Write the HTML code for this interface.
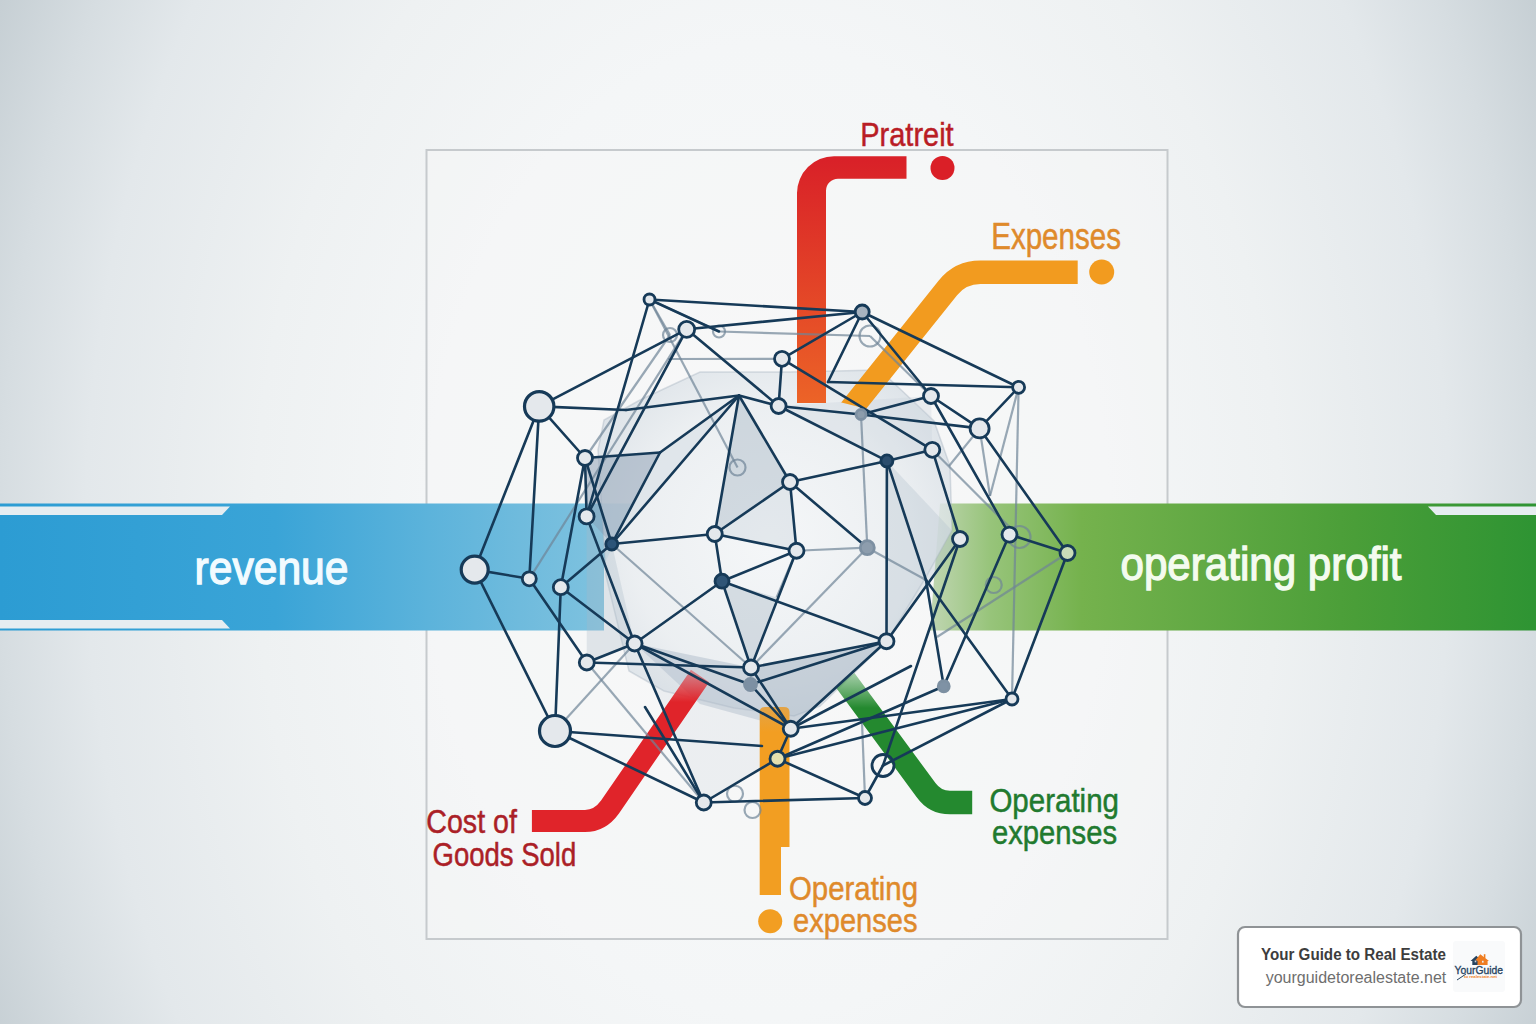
<!DOCTYPE html>
<html><head><meta charset="utf-8">
<style>
html,body{margin:0;padding:0;width:1536px;height:1024px;overflow:hidden;background:#eef0f2;}
svg{display:block;position:absolute;left:0;top:0;}
text{font-family:"Liberation Sans",sans-serif;}
</style></head><body>
<svg width="1536" height="1024" viewBox="0 0 1536 1024">
<defs>
 <radialGradient id="bg" cx="768" cy="530" r="853" gradientUnits="userSpaceOnUse" gradientTransform="translate(768 530) scale(1 1.425) translate(-768 -530)">
  <stop offset="0" stop-color="#f9fafa"/>
  <stop offset="0.4" stop-color="#f4f6f7"/>
  <stop offset="0.6" stop-color="#eef1f2"/>
  <stop offset="0.8" stop-color="#e3e8eb"/>
  <stop offset="0.9" stop-color="#d6dde1"/>
  <stop offset="1" stop-color="#c6cfd4"/>
 </radialGradient>
 <linearGradient id="blue" x1="0" y1="0" x2="612" y2="0" gradientUnits="userSpaceOnUse">
  <stop offset="0" stop-color="#2c9cd3"/>
  <stop offset="0.45" stop-color="#3aa4d7"/>
  <stop offset="0.7" stop-color="#5cb3db"/>
  <stop offset="0.85" stop-color="#6fbbdd"/>
  <stop offset="1" stop-color="#80c3df"/>
 </linearGradient>
 <linearGradient id="green" x1="930" y1="0" x2="1536" y2="0" gradientUnits="userSpaceOnUse">
  <stop offset="0" stop-color="#c0d6b2"/>
  <stop offset="0.1" stop-color="#97c47a"/>
  <stop offset="0.25" stop-color="#75b24d"/>
  <stop offset="0.7" stop-color="#4a9e38"/>
  <stop offset="1" stop-color="#2e9433"/>
 </linearGradient>
 <linearGradient id="redv" x1="0" y1="160" x2="0" y2="405" gradientUnits="userSpaceOnUse">
  <stop offset="0" stop-color="#d92128"/>
  <stop offset="1" stop-color="#ec6427"/>
 </linearGradient>
 <radialGradient id="sph" cx="770" cy="540" r="200" gradientUnits="userSpaceOnUse">
  <stop offset="0" stop-color="#f4f6f8"/>
  <stop offset="0.7" stop-color="#e9edf0"/>
  <stop offset="1" stop-color="#d9e0e6"/>
 </radialGradient>
 <filter id="soft" x="-10%" y="-10%" width="120%" height="120%"><feGaussianBlur stdDeviation="2.5"/></filter>
 <clipPath id="oclip"><polygon points="780,150 1200,150 1200,493 780,387"/></clipPath>
 <linearGradient id="redfade" x1="0" y1="672" x2="0" y2="702" gradientUnits="userSpaceOnUse"><stop offset="0" stop-color="#e0242a" stop-opacity="0.45"/><stop offset="1" stop-color="#e0242a"/></linearGradient>
 <linearGradient id="grnfade" x1="0" y1="668" x2="0" y2="708" gradientUnits="userSpaceOnUse"><stop offset="0" stop-color="#3d9a45" stop-opacity="0.35"/><stop offset="1" stop-color="#24892f"/></linearGradient>
 <linearGradient id="orgfade" x1="0" y1="707" x2="0" y2="732" gradientUnits="userSpaceOnUse"><stop offset="0" stop-color="#e3a448"/><stop offset="1" stop-color="#f29e22"/></linearGradient>
</defs>
<rect width="1536" height="1024" fill="url(#bg)"/>
<rect x="426.5" y="150" width="741" height="789" fill="#f5f6f7" fill-opacity="0.35" stroke="#c6cacd" stroke-width="2"/>
<polygon points="0,503.5 632,503.5 612,548 604,565 604,630.5 0,630.5" fill="url(#blue)"/>
<polygon points="0,506.5 230,506.5 222,515 0,515" fill="#e6edf1"/>
<polygon points="0,620 222,620 230,628.5 0,628.5" fill="#e6edf1"/>
<polygon points="940,503.5 1536,503.5 1536,630.5 930,630.5" fill="url(#green)"/>
<polygon points="1428,506.5 1536,506.5 1536,515 1436,515" fill="#e6edf1"/>
<text x="194.5" y="583.5" font-size="46.5" fill="#f2fbff" stroke="#f2fbff" stroke-width="1.3" textLength="154" lengthAdjust="spacingAndGlyphs">revenue</text>
<text x="1120.5" y="580.3" font-size="46.5" fill="#f4fbef" stroke="#f4fbef" stroke-width="1.3" textLength="281" lengthAdjust="spacingAndGlyphs">operating profit</text>
<polygon points="598,450 606,576 629,671 664,691 734,708 794,716 820,706 887,641 926,577 952,530 950,466 934,421 880,370 790,372 700,372 640,400 604,420" fill="url(#sph)" fill-opacity="0.82" stroke="#9aa9b7" stroke-opacity="0.35" stroke-width="1.5"/>
<polygon points="585,458 660,452.5 611.8,544 586.6,516.4" fill="#8fa3b6" fill-opacity="0.55"/>
<polygon points="739,395.5 714.75,534 790,482" fill="#a9b8c6" fill-opacity="0.45"/>
<polygon points="790,482 796.5,550.75 714.75,534" fill="#c3ced8" fill-opacity="0.35"/>
<polygon points="722,581.2 776.6,597.5 751,667.5" fill="#a9b8c6" fill-opacity="0.4"/>
<polygon points="751,667.5 886.5,641.25 790.75,728.75" fill="#9fb0c0" fill-opacity="0.5"/>
<polygon points="886.9,460.9 886.5,641.25 960,539" fill="#b5c2ce" fill-opacity="0.35"/>
<polygon points="778.6,406 886.9,460.9 932.3,449.8 931,396" fill="#c8d2db" fill-opacity="0.3"/>
<polygon points="739,395.5 660,452.5 611.8,544" fill="#c5cfd9" fill-opacity="0.3"/>
<polygon points="611.8,544 634.6,643.5 586.8,662.5 586.6,516.4" fill="#a8b9c8" fill-opacity="0.3"/>
<polygon points="634.6,643.5 751,667.5 790.75,728.75 700,704" fill="#9fb0c0" fill-opacity="0.4"/>
<polygon points="634.6,643.5 790.75,728.75 777.5,758.75 703.75,802.5" fill="#c5cfd8" fill-opacity="0.2"/>
<path d="M531.9,821 H585 Q600,821 610,807 L700,676" fill="none" stroke="url(#redfade)" stroke-width="22"/>
<path d="M759.7,712 Q759.7,707 765,707 H784 Q789.5,707 789.5,712 V847 H781 V895 H759.7 Z" fill="url(#orgfade)"/>
<circle cx="770.2" cy="921.2" r="12" fill="#f29e22"/>
<path d="M845,680 L926,790 Q935,802.6 950,802.6 H972.2" fill="none" stroke="url(#grnfade)" stroke-width="23.5"/>
<path d="M797,403 V193 A37,37 0 0 1 834,156.3 H906.5 V178.8 H838 A12,12 0 0 0 826,190.8 V403 Z" fill="url(#redv)"/>
<circle cx="942.5" cy="168" r="12" fill="#da1f27"/>
<path d="M840.6,422 L947.9,287.9 Q960.4,272.3 980.4,272.3 H1077.7" fill="none" stroke="#f29b1f" stroke-width="23.5" clip-path="url(#oclip)"/>
<circle cx="1101.7" cy="272" r="12.5" fill="#f29b1f"/>
<g stroke="#6f8497" stroke-width="2.2" stroke-opacity="0.7" fill="none">
<line x1="865" y1="798" x2="862" y2="722"/>
<line x1="796.5" y1="550.75" x2="867.3" y2="547.7"/>
<line x1="1018.6" y1="387.3" x2="990" y2="496"/>
<line x1="979.6" y1="428.4" x2="990" y2="496"/>
<line x1="979.6" y1="428.4" x2="949" y2="466"/>
<line x1="668" y1="359" x2="782" y2="358.8"/>
<line x1="586.8" y1="662.5" x2="703.75" y2="802.5"/>
<line x1="1067.5" y1="553" x2="937" y2="637"/>
<line x1="861" y1="414.5" x2="867.3" y2="547.7"/>
<line x1="649.5" y1="299.5" x2="719" y2="331.5"/>
<line x1="719" y1="331.5" x2="870" y2="336"/>
<line x1="529.3" y1="578.8" x2="686.7" y2="329.3"/>
<line x1="1018.6" y1="387.3" x2="1012" y2="699"/>
<line x1="611.8" y1="544" x2="751" y2="667.5"/>
<line x1="867.3" y1="547.7" x2="751" y2="667.5"/>
<line x1="867.3" y1="547.7" x2="926" y2="580"/>
<line x1="932.3" y1="449.8" x2="1019.5" y2="537"/>
<line x1="796.5" y1="550.75" x2="776.6" y2="597.5"/>
<line x1="555" y1="731" x2="634.6" y2="643.5"/>
<line x1="649.5" y1="299.5" x2="737.5" y2="467.5"/>
<line x1="870" y1="336" x2="931" y2="396"/>
<line x1="649.5" y1="299.5" x2="670" y2="335"/>
<line x1="670" y1="335" x2="585" y2="458"/>
<circle cx="670" cy="335" r="7"/>
<circle cx="719" cy="331.5" r="6"/>
<circle cx="870" cy="336" r="10.5"/>
<circle cx="737.5" cy="467.5" r="8"/>
<circle cx="1019.5" cy="537" r="11"/>
<circle cx="993.75" cy="585" r="8"/>
<circle cx="735" cy="793.75" r="8"/>
<circle cx="752.5" cy="810" r="8"/>
</g>
<g stroke="#163a58" stroke-width="2.6" stroke-linecap="round">
<line x1="649.5" y1="299.5" x2="862.2" y2="312"/>
<line x1="649.5" y1="299.5" x2="719" y2="331.5"/>
<line x1="649.5" y1="299.5" x2="586.6" y2="516.4"/>
<line x1="686.7" y1="329.3" x2="539.2" y2="406.4"/>
<line x1="686.7" y1="329.3" x2="862.2" y2="312"/>
<line x1="686.7" y1="329.3" x2="778.6" y2="406"/>
<line x1="686.7" y1="329.3" x2="586.6" y2="516.4"/>
<line x1="539.2" y1="406.4" x2="626" y2="410"/>
<line x1="626" y1="410" x2="739" y2="395.5"/>
<line x1="539.2" y1="406.4" x2="585" y2="458"/>
<line x1="539.2" y1="406.4" x2="474.7" y2="569.6"/>
<line x1="539.2" y1="406.4" x2="529.3" y2="578.8"/>
<line x1="585" y1="458" x2="586.6" y2="516.4"/>
<line x1="585" y1="458" x2="660" y2="452.5"/>
<line x1="585" y1="458" x2="611.8" y2="544"/>
<line x1="585" y1="458" x2="560.8" y2="587.2"/>
<line x1="660" y1="452.5" x2="739" y2="395.5"/>
<line x1="660" y1="452.5" x2="611.8" y2="544"/>
<line x1="586.6" y1="516.4" x2="634.6" y2="643.5"/>
<line x1="862.2" y1="312" x2="782" y2="358.8"/>
<line x1="862.2" y1="312" x2="931" y2="396"/>
<line x1="862.2" y1="312" x2="1018.6" y2="387.3"/>
<line x1="862.2" y1="312" x2="828" y2="382"/>
<line x1="828" y1="382" x2="1018.6" y2="387.3"/>
<line x1="782" y1="358.8" x2="778.6" y2="406"/>
<line x1="782" y1="358.8" x2="932.3" y2="449.8"/>
<line x1="778.6" y1="406" x2="739" y2="395.5"/>
<line x1="778.6" y1="406" x2="886.9" y2="460.9"/>
<line x1="778.6" y1="406" x2="861" y2="414.5"/>
<line x1="861" y1="414.5" x2="979.6" y2="428.4"/>
<line x1="931" y1="396" x2="979.6" y2="428.4"/>
<line x1="931" y1="396" x2="1009.5" y2="534.6"/>
<line x1="931" y1="396" x2="861" y2="414.5"/>
<line x1="1018.6" y1="387.3" x2="979.6" y2="428.4"/>
<line x1="979.6" y1="428.4" x2="1067.5" y2="553"/>
<line x1="932.3" y1="449.8" x2="886.9" y2="460.9"/>
<line x1="932.3" y1="449.8" x2="960" y2="539"/>
<line x1="886.9" y1="460.9" x2="886.5" y2="641.25"/>
<line x1="886.9" y1="460.9" x2="926" y2="580"/>
<line x1="790" y1="482" x2="739" y2="395.5"/>
<line x1="790" y1="482" x2="714.75" y2="534"/>
<line x1="790" y1="482" x2="796.5" y2="550.75"/>
<line x1="790" y1="482" x2="867.3" y2="547.7"/>
<line x1="790" y1="482" x2="886.9" y2="460.9"/>
<line x1="714.75" y1="534" x2="611.8" y2="544"/>
<line x1="714.75" y1="534" x2="796.5" y2="550.75"/>
<line x1="714.75" y1="534" x2="722" y2="581.2"/>
<line x1="714.75" y1="534" x2="739" y2="395.5"/>
<line x1="796.5" y1="550.75" x2="722" y2="581.2"/>
<line x1="796.5" y1="550.75" x2="751" y2="667.5"/>
<line x1="722" y1="581.2" x2="886.5" y2="641.25"/>
<line x1="722" y1="581.2" x2="751" y2="667.5"/>
<line x1="886.5" y1="641.25" x2="751" y2="667.5"/>
<line x1="886.5" y1="641.25" x2="790.75" y2="728.75"/>
<line x1="886.5" y1="641.25" x2="960" y2="539"/>
<line x1="751" y1="667.5" x2="790.75" y2="728.75"/>
<line x1="750.5" y1="684.5" x2="790.75" y2="728.75"/>
<line x1="634.6" y1="643.5" x2="586.8" y2="662.5"/>
<line x1="634.6" y1="643.5" x2="790.75" y2="728.75"/>
<line x1="634.6" y1="643.5" x2="703.75" y2="802.5"/>
<line x1="474.7" y1="569.6" x2="529.3" y2="578.8"/>
<line x1="474.7" y1="569.6" x2="555" y2="731"/>
<line x1="529.3" y1="578.8" x2="586.8" y2="662.5"/>
<line x1="560.8" y1="587.2" x2="611.8" y2="544"/>
<line x1="560.8" y1="587.2" x2="634.6" y2="643.5"/>
<line x1="560.8" y1="587.2" x2="555" y2="731"/>
<line x1="555" y1="731" x2="762" y2="746"/>
<line x1="555" y1="731" x2="703.75" y2="802.5"/>
<line x1="703.75" y1="802.5" x2="777.5" y2="758.75"/>
<line x1="703.75" y1="802.5" x2="865" y2="798"/>
<line x1="777.5" y1="758.75" x2="790.75" y2="728.75"/>
<line x1="777.5" y1="758.75" x2="1012" y2="699"/>
<line x1="777.5" y1="758.75" x2="943.75" y2="686.25"/>
<line x1="865" y1="798" x2="883" y2="765.5"/>
<line x1="883" y1="765.5" x2="960" y2="539"/>
<line x1="790.75" y1="728.75" x2="1012" y2="699"/>
<line x1="790.75" y1="728.75" x2="911" y2="666"/>
<line x1="883" y1="765.5" x2="1012" y2="699"/>
<line x1="777.5" y1="758.75" x2="865" y2="798"/>
<line x1="1009.5" y1="534.6" x2="1067.5" y2="553"/>
<line x1="1009.5" y1="534.6" x2="943.75" y2="686.25"/>
<line x1="1067.5" y1="553" x2="1012" y2="699"/>
<line x1="1012" y1="699" x2="926" y2="580"/>
<line x1="943.75" y1="686.25" x2="926" y2="580"/>
<line x1="586.8" y1="662.5" x2="751" y2="667.5"/>
<line x1="634.6" y1="643.5" x2="750.5" y2="684.5"/>
<line x1="886.5" y1="641.25" x2="750.5" y2="684.5"/>
<line x1="739" y1="395.5" x2="611.8" y2="544"/>
<line x1="722" y1="581.2" x2="634.6" y2="643.5"/>
<line x1="645" y1="707" x2="703.75" y2="802.5"/>
</g>
<g>
<circle cx="649.5" cy="299.5" r="5.5" fill="#e4e8ec" stroke="#163a58" stroke-width="2.8"/>
<circle cx="686.7" cy="329.3" r="8" fill="#e4e8ec" stroke="#163a58" stroke-width="2.8"/>
<circle cx="539.2" cy="406.4" r="14.7" fill="#e4e8ec" stroke="#163a58" stroke-width="3.2"/>
<circle cx="585" cy="458" r="7.5" fill="#e4e8ec" stroke="#163a58" stroke-width="2.8"/>
<circle cx="586.6" cy="516.4" r="7.5" fill="#e4e8ec" stroke="#163a58" stroke-width="2.8"/>
<circle cx="862.2" cy="312" r="7" fill="#a7b3bf" stroke="#163a58" stroke-width="2.8"/>
<circle cx="782" cy="358.8" r="7.5" fill="#e4e8ec" stroke="#163a58" stroke-width="2.8"/>
<circle cx="778.6" cy="406" r="7.5" fill="#e4e8ec" stroke="#163a58" stroke-width="2.8"/>
<circle cx="931" cy="396" r="7.5" fill="#e4e8ec" stroke="#163a58" stroke-width="2.8"/>
<circle cx="861" cy="414.5" r="5" fill="#8c9cab" stroke="#7d90a2" stroke-width="2.8"/>
<circle cx="932.3" cy="449.8" r="7.5" fill="#e4e8ec" stroke="#163a58" stroke-width="2.8"/>
<circle cx="886.9" cy="460.9" r="6" fill="#2c4e6e" stroke="#163a58" stroke-width="2.8"/>
<circle cx="790" cy="482" r="7.5" fill="#e4e8ec" stroke="#163a58" stroke-width="2.8"/>
<circle cx="714.75" cy="534" r="7.5" fill="#e4e8ec" stroke="#163a58" stroke-width="2.8"/>
<circle cx="1018.6" cy="387.3" r="6" fill="#e4e8ec" stroke="#163a58" stroke-width="2.8"/>
<circle cx="979.6" cy="428.4" r="9.5" fill="#e4e8ec" stroke="#163a58" stroke-width="2.8"/>
<circle cx="611.8" cy="544" r="6" fill="#2c5478" stroke="#163a58" stroke-width="2.8"/>
<circle cx="474.7" cy="569.6" r="13.5" fill="#e4e8ec" stroke="#163a58" stroke-width="3.2"/>
<circle cx="529.3" cy="578.8" r="7" fill="#e4e8ec" stroke="#163a58" stroke-width="2.8"/>
<circle cx="560.8" cy="587.2" r="7.5" fill="#e4e8ec" stroke="#163a58" stroke-width="2.8"/>
<circle cx="634.6" cy="643.5" r="7.5" fill="#e4e8ec" stroke="#163a58" stroke-width="2.8"/>
<circle cx="586.8" cy="662.5" r="7.5" fill="#e4e8ec" stroke="#163a58" stroke-width="2.8"/>
<circle cx="555" cy="731" r="15.5" fill="#e4e8ec" stroke="#163a58" stroke-width="3.2"/>
<circle cx="796.5" cy="550.75" r="7.5" fill="#e4e8ec" stroke="#163a58" stroke-width="2.8"/>
<circle cx="867.3" cy="547.7" r="7" fill="#8d9dad" stroke="#7d90a2" stroke-width="2.8"/>
<circle cx="722" cy="581.2" r="7" fill="#2f5577" stroke="#163a58" stroke-width="2.8"/>
<circle cx="886.5" cy="641.25" r="7.5" fill="#e4e8ec" stroke="#163a58" stroke-width="2.8"/>
<circle cx="751" cy="667.5" r="7.5" fill="#e4e8ec" stroke="#163a58" stroke-width="2.8"/>
<circle cx="750.5" cy="684.5" r="6" fill="#7d90a3" stroke="#7d90a2" stroke-width="2.8"/>
<circle cx="790.75" cy="728.75" r="7.5" fill="#e4e8ec" stroke="#163a58" stroke-width="2.8"/>
<circle cx="960" cy="539" r="7.5" fill="#e4e8ec" stroke="#163a58" stroke-width="2.8"/>
<circle cx="943.75" cy="686.25" r="5.5" fill="#7f92a5" stroke="#7d90a2" stroke-width="2.8"/>
<circle cx="1009.5" cy="534.6" r="7.5" fill="#e4e8ec" stroke="#163a58" stroke-width="2.8"/>
<circle cx="1067.5" cy="553" r="7.5" fill="#c9dcb8" stroke="#163a58" stroke-width="2.8"/>
<circle cx="1012" cy="699" r="6" fill="#e4e8ec" stroke="#163a58" stroke-width="2.8"/>
<circle cx="777.5" cy="758.75" r="7.5" fill="#e6e0ae" stroke="#163a58" stroke-width="2.8"/>
<circle cx="703.75" cy="802.5" r="7.5" fill="#e4e8ec" stroke="#163a58" stroke-width="2.8"/>
<circle cx="865" cy="798" r="6.5" fill="#e4e8ec" stroke="#163a58" stroke-width="2.8"/>
<circle cx="883" cy="765.5" r="11" fill="none" stroke="#163a58" stroke-width="2.8"/>
</g>
<text x="860.2" y="145.9" font-size="34" fill="#b91d25" stroke="#b91d25" stroke-width="0.5" textLength="93.5" lengthAdjust="spacingAndGlyphs">Pratreit</text>
<text x="991.2" y="249.2" font-size="36" fill="#df8a2b" stroke="#df8a2b" stroke-width="0.5" textLength="129.8" lengthAdjust="spacingAndGlyphs">Expenses</text>
<text x="426.3" y="833.1" font-size="33.7" fill="#ab1f27" stroke="#ab1f27" stroke-width="0.5" textLength="90.6" lengthAdjust="spacingAndGlyphs">Cost of</text>
<text x="432.5" y="865.6" font-size="33.3" fill="#ab1f27" stroke="#ab1f27" stroke-width="0.5" textLength="143.7" lengthAdjust="spacingAndGlyphs">Goods Sold</text>
<text x="989.4" y="812.3" font-size="34" fill="#217a2f" stroke="#217a2f" stroke-width="0.5" textLength="129.6" lengthAdjust="spacingAndGlyphs">Operating</text>
<text x="992" y="843.75" font-size="33" fill="#217a2f" stroke="#217a2f" stroke-width="0.5" textLength="125" lengthAdjust="spacingAndGlyphs">expenses</text>
<text x="789" y="899.6" font-size="34" fill="#df8a2b" stroke="#df8a2b" stroke-width="0.5" textLength="129" lengthAdjust="spacingAndGlyphs">Operating</text>
<text x="793" y="932" font-size="33.5" fill="#df8a2b" stroke="#df8a2b" stroke-width="0.5" textLength="124.5" lengthAdjust="spacingAndGlyphs">expenses</text>
<rect x="1238" y="927" width="283" height="80" rx="7" fill="#ffffff" stroke="#8f9396" stroke-width="2.2"/>
<text x="1261" y="960" font-size="16" font-weight="bold" fill="#3d3d3d" textLength="185" lengthAdjust="spacingAndGlyphs">Your Guide to Real Estate</text>
<rect x="1453" y="941" width="52" height="51" rx="3" fill="#f9fafb"/>
<g>
<polygon points="1470.5,961 1476.3,955.8 1482,961 1480.6,961 1480.6,965 1472.3,965 1472.3,961" fill="#27435f"/>
<polygon points="1475.5,960 1480.3,954.2 1489,961 1487.6,961 1487.6,965 1477.5,965 1477.5,961" fill="#ef7d22"/>
<rect x="1483.8" y="954.2" width="1.6" height="4" fill="#ef7d22"/>
<rect x="1474.7" y="960.5" width="1.6" height="1.8" fill="#c9d1d8"/>
<rect x="1482" y="960.8" width="1.6" height="1.8" fill="#e8eef2"/>
<text x="1454.6" y="973.6" font-size="11.5" fill="#27435f" stroke="#27435f" stroke-width="0.35" textLength="48.3" lengthAdjust="spacingAndGlyphs">YourGuide</text>
<path d="M1457,980 L1466,974" stroke="#27435f" stroke-width="1"/>
<text x="1464" y="977.5" font-size="3.5" font-weight="bold" fill="#ef7d22" textLength="33" lengthAdjust="spacingAndGlyphs">to realestate.net</text>
</g>
<text x="1265.7" y="983" font-size="16" fill="#6e6e6e" textLength="180.6" lengthAdjust="spacingAndGlyphs">yourguidetorealestate.net</text>
</svg>
</body></html>
